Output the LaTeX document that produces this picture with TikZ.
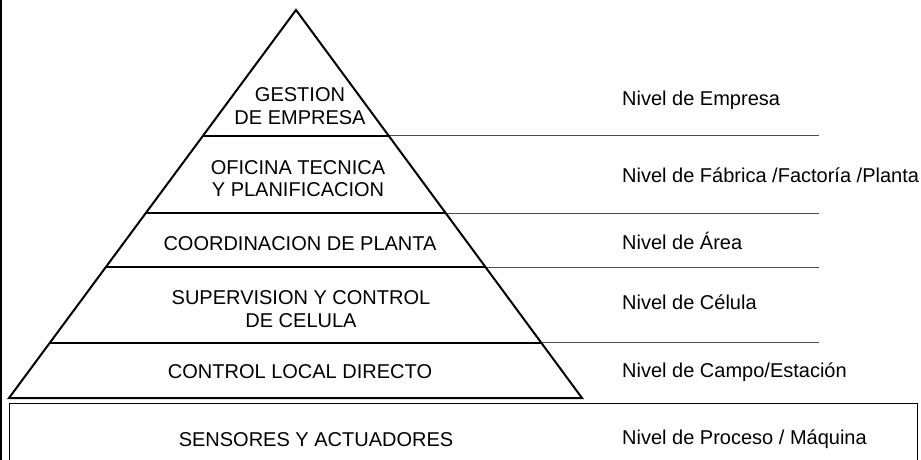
\documentclass[tikz,border=0pt]{standalone}
\usepackage{fontspec}
\setmainfont{Liberation Sans}
\usetikzlibrary{calc}

\tikzset{
	capa/.style={font=\fontsize{20}{22.5}\selectfont, align=center, inner sep=0pt},
	nivel/.style={font=\fontsize{20}{22}\selectfont, anchor=base west, inner sep=0pt},
	borde/.style={draw=black, line width=2pt},
	guia/.style={draw=black!70, line width=1pt},
}

\begin{document}
\begin{tikzpicture}[x=1pt, y=-1pt]
		\useasboundingbox (0,0) rectangle (921,460);
		% marco izquierdo y caja inferior
		\draw[line width=1.5pt] (1,0) -- (1,460);
		\draw[line width=1pt] (9,462) |- (917,403) -- (917,462);
		% piramide
		\coordinate (cima) at (296,10);
		\coordinate (izq) at (9,398);
		\coordinate (der) at (582,398);
		\coordinate (guiafin) at (819,0);
		\foreach \t/\n in {0.3247/a, 0.5232/b, 0.6624/c, 0.8582/d} {
			\coordinate (l\n) at ($(cima)!\t!(izq)$);
			\coordinate (r\n) at ($(cima)!\t!(der)$);
			\draw[guia] (r\n) -- (r\n -| guiafin);
			\draw[borde] (l\n) -- (r\n);
		}
		\draw[borde, line join=miter] (izq) -- (cima) -- (der) -- cycle;
		% capas
		\node[capa] (gestion) at (300,106) {GESTION\\DE EMPRESA};
		\node[capa] (oficina) at (298,178.5) {OFICINA TECNICA\\Y PLANIFICACION};
		\node[capa] (coordinacion) at (300,243.5) {COORDINACION DE PLANTA};
		\node[capa] (supervision) at (301,309) {SUPERVISION Y CONTROL\\DE CELULA};
		\node[capa] (control) at (300,372) {CONTROL LOCAL DIRECTO};
		\node[capa] (sensores) at (316,440) {SENSORES Y ACTUADORES};
		% niveles
		\node[nivel] (empresa) at (622,106) {Nivel de Empresa};
		\node[nivel] (fabrica) at (622,182) {Nivel de Fábrica /Factoría /Planta};
		\node[nivel] (area) at (622,249.5) {Nivel de Área};
		\node[nivel] (celula) at (622,309) {Nivel de Célula};
		\node[nivel] (campo) at (622,377) {Nivel de Campo/Estación};
		\node[nivel] (proceso) at (622,444) {Nivel de Proceso / Máquina};
	\end{tikzpicture}
\end{document}
